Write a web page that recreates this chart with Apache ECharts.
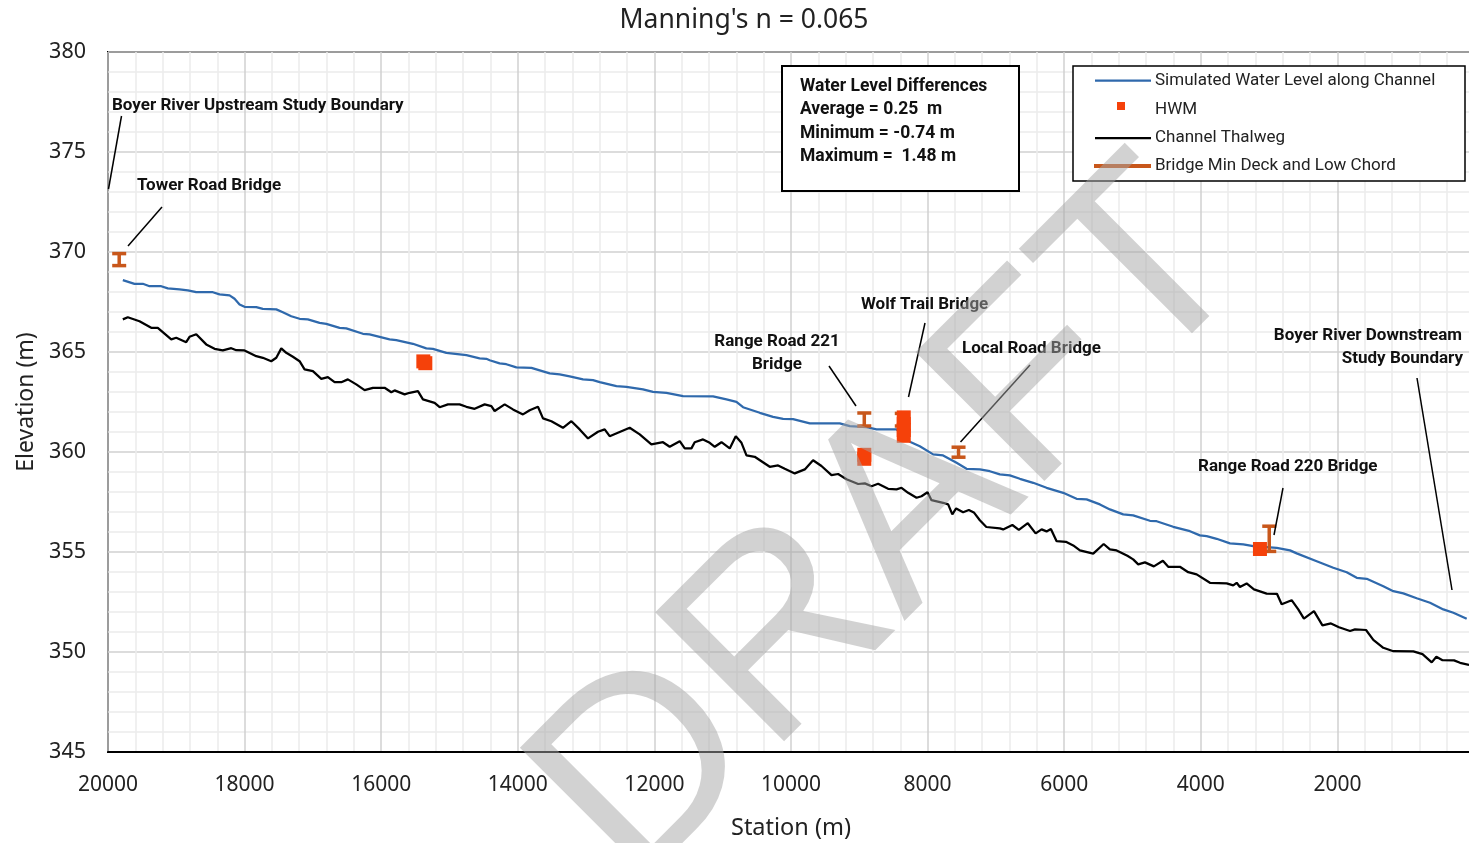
<!DOCTYPE html>
<html>
<head>
<meta charset="utf-8">
<script src="https://cdn.jsdelivr.net/npm/echarts@6/dist/echarts.min.js"></script>
<style>html,body{margin:0;padding:0;background:#fff;}#c{width:1469px;height:843px;}</style>
</head>
<body>
<div id="c"></div>
<script>
// Simulated water level along channel
const wlStation = [19783,19612,19490,19392,19221,19124,18953,18831,18708,18465,18367,18220,18147,18074,18001,17829,17733,17536,17440,17317,17195,17074,16902,16804,16609,16511,16268,16170,15877,15779,15536,15339,15243,15046,14753,14559,14460,14412,14266,14168,14021,13801,13533,13387,13240,13045,12899,12801,12556,12410,12167,12020,11824,11581,11141,10945,10799,10702,10457,10263,10116,9970,9725,9286,9139,8895,8748,8455,8260,8114,7919,7773,7576,7430,7235,7089,6942,6796,6649,6454,6258,6015,5819,5672,5477,5331,5136,4990,4745,4647,4404,4159,4013,3914,3768,3573,3378,3232,2889,2694,2596,2303,2060,1864,1717,1571,1328,1181,1035,839,644,449,302,107];
const wlElev = [368.59,368.41,368.41,368.29,368.29,368.18,368.13,368.08,367.99,367.99,367.88,367.83,367.66,367.38,367.26,367.24,367.16,367.13,366.99,366.79,366.66,366.63,366.46,366.41,366.21,366.18,365.91,365.88,365.63,365.59,365.41,365.18,365.16,364.96,364.84,364.68,364.66,364.59,364.43,364.39,364.23,364.21,363.93,363.88,363.78,363.63,363.59,363.49,363.29,363.26,363.13,363.01,362.96,362.79,362.78,362.63,362.51,362.24,361.96,361.76,361.66,361.64,361.43,361.43,361.29,361.24,361.13,361.13,360.51,360.29,359.88,359.83,359.46,359.16,359.13,359.04,358.88,358.83,358.66,358.46,358.21,357.96,357.66,357.63,357.38,357.13,356.88,356.83,356.56,356.54,356.26,356.04,355.83,355.79,355.66,355.43,355.38,355.29,355.21,355.08,354.93,354.54,354.21,353.99,353.71,353.66,353.29,353.04,352.93,352.69,352.46,352.13,351.96,351.66];

// Channel thalweg
const thStation = [19783,19710,19539,19367,19271,19074,19001,18855,18806,18708,18562,18440,18319,18195,18122,18001,17829,17733,17610,17536,17463,17390,17293,17195,17122,17000,16877,16781,16682,16584,16488,16365,16243,16121,15950,15852,15804,15657,15584,15462,15389,15218,15144,15023,14852,14753,14632,14485,14387,14339,14192,14071,13924,13826,13705,13631,13508,13339,13215,13094,12972,12826,12728,12655,12362,12215,12044,11874,11776,11629,11556,11458,11410,11288,11190,11116,11018,10897,10809,10725,10652,10531,10433,10311,10189,10091,9945,9798,9677,9554,9407,9310,9187,9017,8919,8821,8725,8578,8455,8382,8285,8162,8089,8001,7943,7773,7699,7638,7582,7480,7396,7323,7235,7140,6942,6894,6759,6664,6533,6418,6331,6258,6195,6111,5975,5868,5770,5575,5422,5331,5233,5075,4990,4916,4818,4687,4555,4477,4306,4184,4061,3866,3621,3525,3475,3427,3329,3222,3036,2885,2816,2670,2573,2490,2343,2219,2094,1977,1815,1742,1581,1474,1328,1181,888,754,619,551,461,292,204,72];
const thElev = [366.63,366.74,366.54,366.21,366.21,365.63,365.71,365.49,365.76,365.89,365.38,365.16,365.08,365.19,365.09,365.08,364.79,364.71,364.54,364.71,365.18,364.96,364.76,364.54,364.13,364.04,363.66,363.74,363.49,363.49,363.63,363.38,363.09,363.21,363.21,362.99,363.08,362.88,362.96,363.04,362.63,362.46,362.24,362.38,362.38,362.26,362.16,362.38,362.29,362.05,362.38,362.13,361.88,362.09,362.26,361.68,361.54,361.21,361.54,361.13,360.68,361.01,361.13,360.79,361.21,360.88,360.38,360.49,360.26,360.54,360.18,360.18,360.49,360.63,360.46,360.26,360.49,360.18,360.79,360.46,359.83,359.76,359.54,359.26,359.33,359.16,358.93,359.13,359.59,359.30,358.84,358.90,358.64,358.40,358.43,358.29,358.41,358.16,358.13,358.21,357.96,357.71,357.79,357.99,357.59,357.46,357.38,356.88,357.18,356.99,357.10,356.98,356.59,356.25,356.18,356.13,356.35,356.11,356.44,355.93,356.13,356.03,356.15,355.54,355.51,355.33,355.08,354.92,355.40,355.13,355.08,354.81,354.63,354.38,354.48,354.28,354.56,354.26,354.26,353.99,353.88,353.46,353.43,353.33,353.46,353.25,353.43,353.13,352.92,352.91,352.39,352.59,352.13,351.67,352.04,351.33,351.43,351.24,351.05,351.13,351.10,350.61,350.21,350.04,350.03,349.89,349.48,349.76,349.59,349.58,349.46,349.35];

// High water marks
const hwmStation = [15383,15354,8927,8927,8349,8349,8349,8349,3134];
const hwmElev = [364.53,364.44,359.86,359.66,361.73,361.40,361.10,360.81,355.15];

// Bridges: min deck (top) and low chord (bottom)
const bridgeName = ['Tower Road','Range Road 221','Wolf Trail','Local Road','Range Road 220'];
const bridgeStation = [19836,8927,8378,7547,2998];
const bridgeDeck = [369.92,361.95,361.93,360.24,356.29];
const bridgeChord = [369.32,361.30,361.30,359.74,355.03];

const statsLines = ['Water Level Differences','Average = 0.25  m','Minimum = -0.74 m','Maximum =  1.48 m'];

const C_BLUE = '#2F69AC', C_HWM = '#F5410A', C_BRIDGE = '#C8571B';
const pair = (a, b) => a.map((v, i) => [v, b[i]]);

const chart = echarts.init(document.getElementById('c'), null, {renderer: 'canvas'});
const ANN_FONT = 'bold 17px Roboto';
function annText(text, x, y, align) {
  return {type: 'text', z: 20, x: x, y: y, style: {text: text, font: ANN_FONT, fill: '#111', align: align || 'left', verticalAlign: 'middle'}};
}
function leader(x1, y1, x2, y2) {
  return {type: 'line', z: 20, shape: {x1, y1, x2, y2}, style: {stroke: '#000', lineWidth: 1.5}};
}
const legFont = '17px Roboto';
const graphics = [
  // stats box
  {type: 'rect', z: 15, shape: {x: 782, y: 66, width: 237, height: 125}, style: {fill: '#fff', stroke: '#000', lineWidth: 2}},
  ...statsLines.map((t, i) => ({type: 'text', z: 16, x: 800, y: [87, 110, 134, 157][i], style: {text: t, font: 'bold 17.5px Roboto', fill: '#111', verticalAlign: 'middle'}})),
  // legend box
  {type: 'rect', z: 15, shape: {x: 1073, y: 66, width: 392, height: 115}, style: {fill: '#fff', stroke: '#000', lineWidth: 1.5}},
  {type: 'line', z: 16, shape: {x1: 1095, y1: 80.5, x2: 1151, y2: 80.5}, style: {stroke: C_BLUE, lineWidth: 2.25}},
  {type: 'text', z: 16, x: 1155, y: 80.5, style: {text: 'Simulated Water Level along Channel', font: legFont, fill: '#222', verticalAlign: 'middle'}},
  {type: 'rect', z: 16, shape: {x: 1117, y: 102, width: 8, height: 8}, style: {fill: C_HWM}},
  {type: 'text', z: 16, x: 1155, y: 110, style: {text: 'HWM', font: legFont, fill: '#222', verticalAlign: 'middle'}},
  {type: 'line', z: 16, shape: {x1: 1095, y1: 138, x2: 1151, y2: 138}, style: {stroke: '#000', lineWidth: 2.25}},
  {type: 'text', z: 16, x: 1155, y: 137.5, style: {text: 'Channel Thalweg', font: legFont, fill: '#222', verticalAlign: 'middle'}},
  {type: 'line', z: 16, shape: {x1: 1094, y1: 166, x2: 1151, y2: 166}, style: {stroke: C_BRIDGE, lineWidth: 4}},
  {type: 'text', z: 16, x: 1155, y: 166, style: {text: 'Bridge Min Deck and Low Chord', font: legFont, fill: '#222', verticalAlign: 'middle'}},
  // annotations
  annText('Boyer River Upstream Study Boundary', 112, 105.5),
  leader(121.5, 116, 108.5, 189),
  annText('Tower Road Bridge', 137, 186),
  leader(162, 207, 128, 246),
  annText('Range Road 221', 777, 342, 'center'),
  annText('Bridge', 777, 365, 'center'),
  leader(829, 366, 856, 406),
  annText('Wolf Trail Bridge', 861, 305),
  leader(925, 323, 908.5, 397),
  annText('Local Road Bridge', 962, 349),
  leader(1030, 365, 960.5, 442),
  annText('Boyer River Downstream', 1462, 336, 'right'),
  annText('Study Boundary', 1463, 359, 'right'),
  leader(1417, 378, 1452, 590),
  annText('Range Road 220 Bridge', 1198, 467),
  leader(1283, 488, 1274, 535),
  // watermark
  {type: 'text', z: 100, x: 894, y: 528, rotation: Math.PI / 4,
   style: {text: 'DRAFT', font: '265px "Liberation Sans"', fill: 'rgba(166,166,166,0.5)', align: 'center', verticalAlign: 'middle'}}
];

const option = {
  animation: false,
  backgroundColor: '#fff',
  title: {text: "Manning's n = 0.065", left: 739, top: 2, textAlign: 'center',
    textStyle: {fontFamily: 'Noto Sans', fontSize: 26.5, fontWeight: 'normal', color: '#222'}},
  grid: {left: 108, right: -5, top: 52, bottom: 91, show: true, borderColor: '#000', borderWidth: 2,
    containLabel: false, outerBoundsMode: 'none'},
  xAxis: {
    type: 'value', inverse: true, min: 0, max: 20000, interval: 2000,
    name: 'Station (m)', nameLocation: 'middle', nameGap: 64,
    nameTextStyle: {fontFamily: 'Noto Sans', fontSize: 23.5, color: '#222'},
    axisLine: {show: true, lineStyle: {color: '#000', width: 2}},
    axisTick: {show: false},
    axisLabel: {fontFamily: 'Noto Sans', fontSize: 21, color: '#222', margin: 23, showMinLabel: true, showMaxLabel: true,
      hideOverlap: false, formatter: v => String(v)},
    splitLine: {show: true, lineStyle: {color: '#d0d0d0', width: 1.5}},
    minorTick: {show: false, splitNumber: 5},
    minorSplitLine: {show: true, lineStyle: {color: '#ebebeb', width: 1.5}}
  },
  yAxis: {
    type: 'value', min: 345, max: 380, interval: 5,
    name: 'Elevation (m)', nameLocation: 'middle', nameGap: 70, nameRotate: 90,
    nameTextStyle: {fontFamily: 'Noto Sans', fontSize: 23, color: '#222'},
    axisLine: {show: true, lineStyle: {color: '#000', width: 2}},
    axisTick: {show: false},
    axisLabel: {fontFamily: 'Noto Sans', fontSize: 21.5, color: '#222', margin: 22},
    splitLine: {show: true, lineStyle: {color: '#d0d0d0', width: 1.5}},
    minorTick: {show: false, splitNumber: 5},
    minorSplitLine: {show: true, lineStyle: {color: '#ebebeb', width: 1.5}}
  },
  series: [
    {name: 'Channel Thalweg', type: 'line', z: 3, data: pair(thStation, thElev), showSymbol: false, symbol: 'none',
     lineStyle: {color: '#000', width: 2.25}},
    {name: 'Simulated Water Level along Channel', type: 'line', z: 3, data: pair(wlStation, wlElev), showSymbol: false, symbol: 'none',
     lineStyle: {color: C_BLUE, width: 2.25}},
    {name: 'Bridge Min Deck and Low Chord', type: 'custom', z: 4,
     data: bridgeStation.map((s, i) => [s, bridgeDeck[i], bridgeChord[i], bridgeName[i]]),
     encode: {x: 0, y: [1, 2]},
     renderItem: function (params, api) {
       const t = api.coord([api.value(0), api.value(1)]);
       const b = api.coord([api.value(0), api.value(2)]);
       const st = {stroke: C_BRIDGE, lineWidth: 3.5};
       return {type: 'group', children: [
         {type: 'line', shape: {x1: t[0], y1: t[1], x2: b[0], y2: b[1]}, style: st},
         {type: 'line', shape: {x1: t[0] - 7, y1: t[1], x2: t[0] + 7, y2: t[1]}, style: st},
         {type: 'line', shape: {x1: b[0] - 7, y1: b[1], x2: b[0] + 7, y2: b[1]}, style: st}
       ]};
     }},
    {name: 'HWM', type: 'scatter', z: 5, symbol: 'rect', symbolSize: 14, data: pair(hwmStation, hwmElev),
     itemStyle: {color: C_HWM, opacity: 1}}
  ],
  graphic: {elements: graphics}
};
chart.setOption(option);
</script>
</body>
</html>
